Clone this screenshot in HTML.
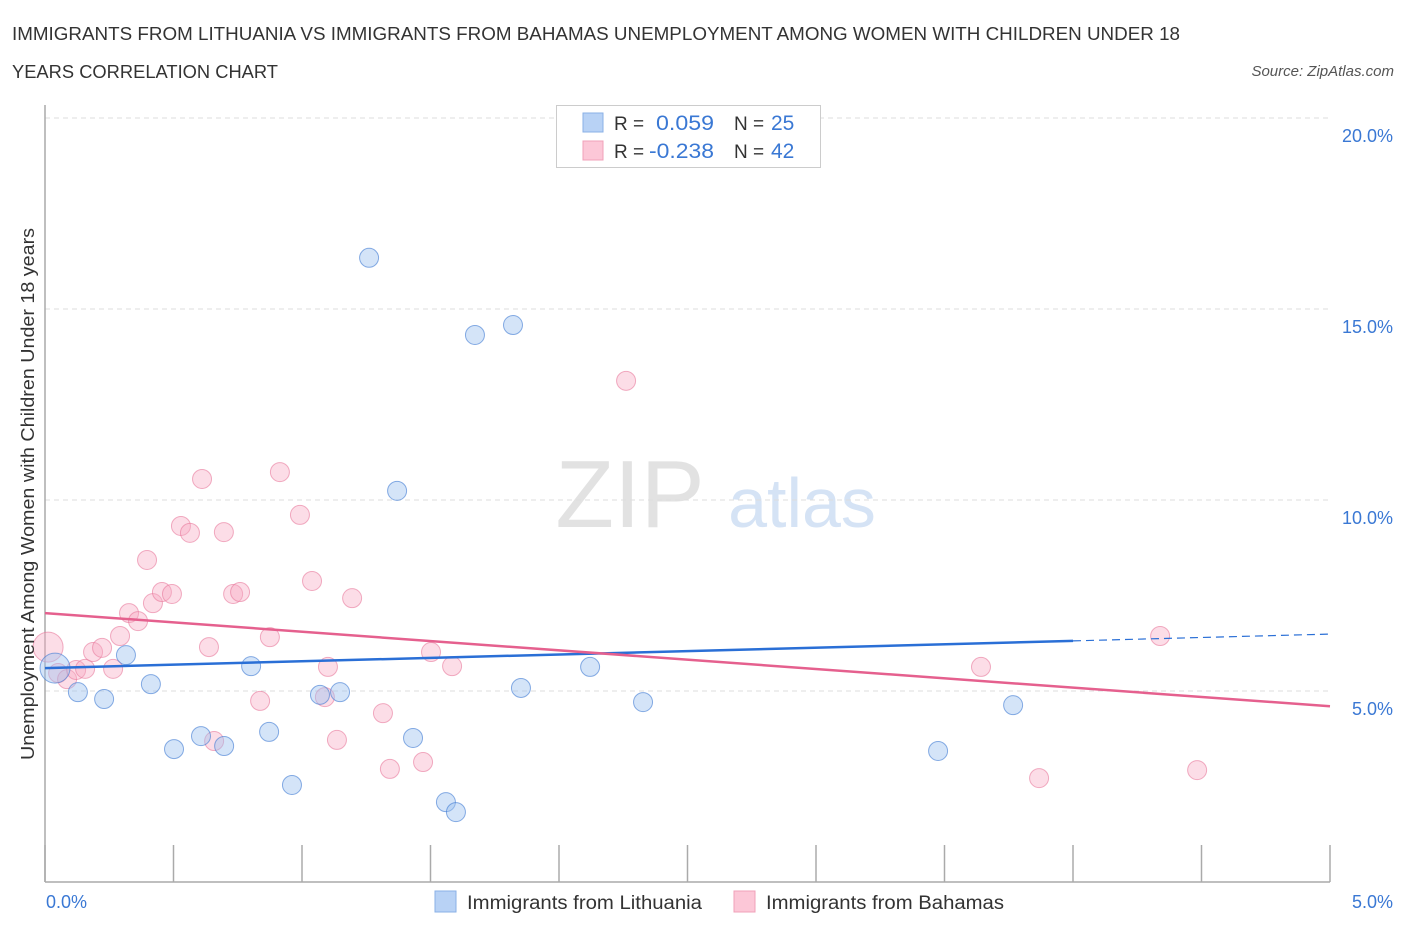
<!DOCTYPE html>
<html><head><meta charset="utf-8"><style>
body{margin:0;background:#fff;font-family:"Liberation Sans",sans-serif;}
svg text{font-family:"Liberation Sans",sans-serif;}
</style></head><body>
<svg id="chart" width="1406" height="930" xmlns="http://www.w3.org/2000/svg">
<text x="12" y="40" font-size="18" fill="#333" textLength="1168" lengthAdjust="spacingAndGlyphs">IMMIGRANTS FROM LITHUANIA VS IMMIGRANTS FROM BAHAMAS UNEMPLOYMENT AMONG WOMEN WITH CHILDREN UNDER 18</text>
<text x="12" y="78" font-size="18" fill="#333" textLength="266" lengthAdjust="spacingAndGlyphs">YEARS CORRELATION CHART</text>
<text x="1394" y="76" font-size="15" fill="#555" font-style="italic" text-anchor="end">Source: ZipAtlas.com</text>
<text x="630" y="527" font-size="96" fill="#e2e2e2" font-family="Liberation Serif" text-anchor="middle">ZIP</text>
<text x="802" y="527" font-size="70" fill="#d5e3f5" text-anchor="middle">atlas</text>
<g id="grid"></g>
<line x1="45" y1="105" x2="45" y2="882" stroke="#aaa" stroke-width="1.5"/>
<line x1="45" y1="882" x2="1330" y2="882" stroke="#aaa" stroke-width="1.5"/>
<g id="ticks"></g>
<g id="pts"></g>
<g id="trends"></g>
<text transform="translate(34,494) rotate(-90)" font-size="18" fill="#333" text-anchor="middle" textLength="532" lengthAdjust="spacingAndGlyphs">Unemployment Among Women with Children Under 18 years</text>
<text x="46" y="908" font-size="18" fill="#3a78d4">0.0%</text>
<text x="1393" y="908" font-size="18" fill="#3a78d4" text-anchor="end">5.0%</text>
<g>
<rect x="556.5" y="105.5" width="264" height="62" fill="#fff" stroke="#ccc"/>
<rect x="583" y="113" width="20" height="19" fill="#b8d2f5" stroke="#8ab0e6"/>
<rect x="583" y="141" width="20" height="19" fill="#fcc7d7" stroke="#f0a0b8"/>
<text x="614" y="130" font-size="19" fill="#333">R =</text>
<text x="656" y="130" font-size="21" fill="#3a78d4" textLength="58" lengthAdjust="spacingAndGlyphs">0.059</text>
<text x="734" y="130" font-size="19" fill="#333">N =</text>
<text x="771" y="130" font-size="21" fill="#3a78d4">25</text>
<text x="614" y="158" font-size="19" fill="#333">R =</text>
<text x="649" y="158" font-size="21" fill="#3a78d4" textLength="65" lengthAdjust="spacingAndGlyphs">-0.238</text>
<text x="734" y="158" font-size="19" fill="#333">N =</text>
<text x="771" y="158" font-size="21" fill="#3a78d4">42</text>
</g>
<g>
<rect x="435" y="891" width="21" height="21" fill="#b8d2f5" stroke="#8ab0e6"/>
<text x="467" y="909" font-size="19" fill="#333" textLength="235" lengthAdjust="spacingAndGlyphs">Immigrants from Lithuania</text>
<rect x="734" y="891" width="21" height="21" fill="#fcc7d7" stroke="#f0a0b8"/>
<text x="766" y="909" font-size="19" fill="#333" textLength="238" lengthAdjust="spacingAndGlyphs">Immigrants from Bahamas</text>
</g>
</svg>
<script>
const yTicks=[5,10,15,20];
const yTickLabels=["5.0%","10.0%","15.0%","20.0%"];
const lithX=[0.039,0.128,0.230,0.315,0.412,0.502,0.607,0.697,0.802,0.872,0.961,1.070,1.148,1.261,1.370,1.432,1.560,1.599,1.673,1.821,1.852,2.121,2.327,3.475,3.767];
const lithY=[5.60,4.97,4.79,5.94,5.18,3.48,3.82,3.56,5.65,3.93,2.54,4.90,4.97,16.34,10.24,3.77,2.09,1.83,14.32,14.58,5.08,5.63,4.71,3.43,4.63];
const bahX=[0.012,0.051,0.086,0.121,0.156,0.187,0.222,0.265,0.292,0.327,0.362,0.397,0.420,0.455,0.494,0.529,0.564,0.611,0.638,0.658,0.696,0.732,0.759,0.837,0.875,0.914,0.992,1.039,1.089,1.101,1.136,1.195,1.315,1.342,1.471,1.502,1.584,2.261,3.642,3.868,4.339,4.483];
const bahY=[6.15,5.47,5.31,5.55,5.58,6.02,6.13,5.58,6.44,7.04,6.83,8.43,7.30,7.59,7.54,9.32,9.14,10.55,6.15,3.69,9.16,7.54,7.59,4.74,6.41,10.73,9.61,7.88,4.84,5.63,3.72,7.43,4.42,2.96,3.14,6.02,5.65,13.12,5.63,2.72,6.44,2.93];
const lithTrend=[5.60,6.49];
const bahTrend=[7.04,4.60];
const NS="http://www.w3.org/2000/svg";
const X=v=>45+v/5*1285;
const Y=v=>882-v/5*191;
function mk(tag,attrs,parent){const e=document.createElementNS(NS,tag);for(const k in attrs)e.setAttribute(k,attrs[k]);parent.appendChild(e);return e;}
const grid=document.getElementById('grid');
yTicks.forEach((t,i)=>{
  const l=mk('line',{x1:45,x2:1330,y1:Y(t),y2:Y(t),stroke:'#ddd','stroke-dasharray':'5,4'},grid);
  
  
  const tx=mk('text',{x:1393,y:Y(t)+24,'font-size':18,fill:'#3a78d4','text-anchor':'end'},grid);
  tx.textContent=yTickLabels[i];
  
  
});
const ticks=document.getElementById('ticks');
for(let i=0;i<=10;i++){
  const l=mk('line',{x1:X(i*0.5),x2:X(i*0.5),y1:845,y2:882,stroke:'#aaa','stroke-width':1.5},ticks);
  
  
}
const pts=document.getElementById('pts');
bahX.forEach((x,i)=>{
  const c=mk('circle',{cx:X(x),cy:Y(bahY[i]),r:i==0?15:9.5,fill:'rgba(248,170,195,0.4)',stroke:'rgba(232,120,155,0.6)','stroke-width':1},pts);
  
  
});
lithX.forEach((x,i)=>{
  const c=mk('circle',{cx:X(x),cy:Y(lithY[i]),r:i==0?15:9.5,fill:'rgba(160,195,240,0.45)',stroke:'rgba(60,120,210,0.6)','stroke-width':1},pts);
  
  
});
const tr=document.getElementById('trends');
const xs=4,xe=5;
const ly=x=>lithTrend[0]+(lithTrend[1]-lithTrend[0])*x/5;
let a=mk('line',{x1:X(0),y1:Y(ly(0)),x2:X(xs),y2:Y(ly(xs)),stroke:'#2a6fd6','stroke-width':2.5},tr);


let b=mk('line',{x1:X(xs),y1:Y(ly(xs)),x2:X(xe),y2:Y(ly(xe)),stroke:'#2a6fd6','stroke-width':1.2,'stroke-dasharray':'8,5'},tr);


let p=mk('line',{x1:X(0),y1:Y(bahTrend[0]),x2:X(5),y2:Y(bahTrend[1]),stroke:'#e5608e','stroke-width':2.5},tr);


</script>
</body></html>
